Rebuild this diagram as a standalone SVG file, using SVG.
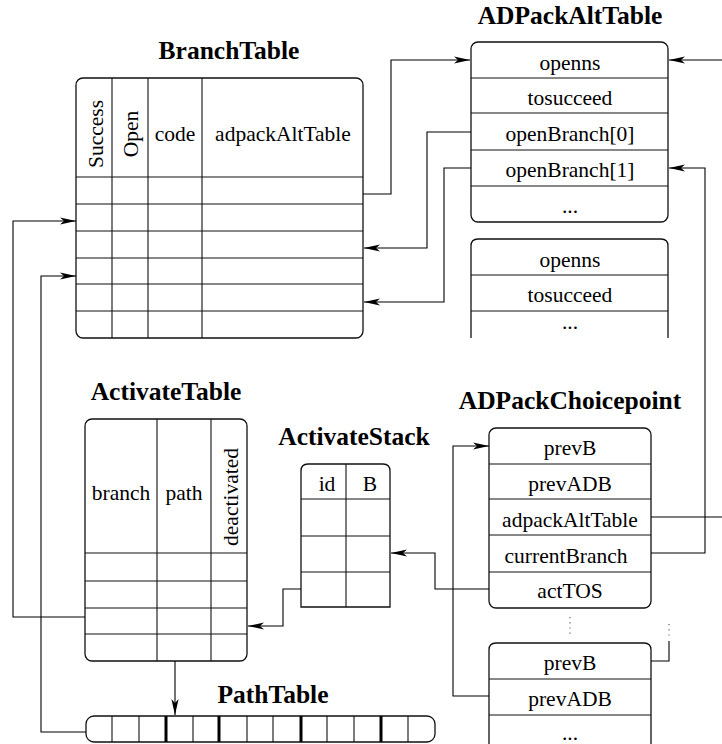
<svg xmlns="http://www.w3.org/2000/svg" width="722" height="744" viewBox="0 0 722 744">
  <style>
    .box { fill: #fff; stroke: #111; stroke-width: 1.3; }
    .grid { fill: none; stroke: #111; stroke-width: 1.1; }
    .thick { fill: none; stroke: #000; stroke-width: 3; }
    .txt { font-family: "Liberation Serif", "Times New Roman", serif; font-size: 21.5px; fill: #000; text-anchor: middle; }
    .title { font-family: "Liberation Serif", "Times New Roman", serif; font-size: 25.5px; font-weight: bold; fill: #000; text-anchor: middle; }
    .wire { fill: none; stroke: #000; stroke-width: 1.1; }
    .arrow { marker-end: url(#ah); }
    .dots { fill: none; stroke: #555; stroke-width: 1.1; stroke-dasharray: 1.2 4; }
  </style>
  <defs>
    <marker id="ah" markerUnits="userSpaceOnUse" viewBox="-18 -5 19 10" markerWidth="19" markerHeight="10" refX="0" refY="0" orient="auto">
      <path d="M0,0 L-16,-3.6 L-12,0 L-16,3.6 Z" fill="#000"/>
    </marker>
  </defs>

  <!-- BranchTable -->
  <g id="branchTable">
    <text class="title" x="229" y="59">BranchTable</text>
    <rect class="box" x="76" y="78" width="287" height="260" rx="7"/>
    <path class="grid" d="M76,177 H363 M76,204 H363 M76,231 H363 M76,258 H363 M76,284 H363 M76,311 H363 M112,78 V338 M148,78 V338 M202,78 V338"/>
    <text class="txt" transform="translate(103,134) rotate(-90)">Success</text>
    <text class="txt" transform="translate(138,134) rotate(-90)">Open</text>
    <text class="txt" x="175" y="141">code</text>
    <text class="txt" x="283" y="141">adpackAltTable</text>
  </g>

  <!-- ADPackAltTable -->
  <g id="adpackAltTable">
    <text class="title" x="570" y="24">ADPackAltTable</text>
    <rect class="box" x="471" y="42" width="197" height="180" rx="7"/>
    <path class="grid" d="M471,78 H668 M471,113 H668 M471,150 H668 M471,186 H668"/>
    <text class="txt" x="570" y="70">openns</text>
    <text class="txt" x="570" y="105">tosucceed</text>
    <text class="txt" x="570" y="141">openBranch[0]</text>
    <text class="txt" x="570" y="177">openBranch[1]</text>
    <text class="txt" x="570" y="213">...</text>
  </g>

  <g id="adpackAltTable2">
    <path class="box" d="M471,338 V246 Q471,239 478,239 H661 Q668,239 668,246 V338"/>
    <path class="grid" d="M471,275 H668 M471,311 H668"/>
    <text class="txt" x="570" y="267">openns</text>
    <text class="txt" x="570" y="302">tosucceed</text>
    <text class="txt" x="570" y="329">...</text>
  </g>

  <!-- ActivateTable -->
  <g id="activateTable">
    <text class="title" x="166" y="400">ActivateTable</text>
    <rect class="box" x="85" y="419" width="162" height="242" rx="7"/>
    <path class="grid" d="M85,553 H247 M85,581 H247 M85,608 H247 M85,634 H247 M157,419 V661 M211,419 V661"/>
    <text class="txt" x="121" y="500">branch</text>
    <text class="txt" x="184" y="500">path</text>
    <text class="txt" transform="translate(238,497) rotate(-90)">deactivated</text>
  </g>

  <!-- ActivateStack -->
  <g id="activateStack">
    <text class="title" x="354" y="445">ActivateStack</text>
    <path class="box" d="M301,607 V471 Q301,464 308,464 H383 Q390,464 390,471 V607 Z"/>
    <path class="grid" d="M301,499 H390 M301,536 H390 M301,572 H390 M346,464 V607"/>
    <text class="txt" x="327" y="491">id</text>
    <text class="txt" x="370" y="491">B</text>
  </g>

  <!-- PathTable -->
  <g id="pathTable">
    <text class="title" x="273" y="703">PathTable</text>
    <rect class="box" x="86" y="716" width="349" height="26" rx="8"/>
    <path class="grid" d="M112,716 V742 M139,716 V742 M193,716 V742 M247,716 V742 M273,716 V742 M327,716 V742 M354,716 V742 M408,716 V742"/>
    <path class="thick" d="M166,716 V742 M219,716 V742 M301,716 V742 M381,716 V742"/>
  </g>

  <!-- ADPackChoicepoint -->
  <g id="adpackChoicepoint">
    <text class="title" x="570" y="409">ADPackChoicepoint</text>
    <rect class="box" x="489" y="428" width="162" height="180" rx="7"/>
    <path class="grid" d="M489,464 H651 M489,499 H651 M489,535 H651 M489,572 H651"/>
    <text class="txt" x="570" y="455">prevB</text>
    <text class="txt" x="570" y="491">prevADB</text>
    <text class="txt" x="570" y="527">adpackAltTable</text>
    <text class="txt" x="566" y="563">currentBranch</text>
    <text class="txt" x="570" y="598">actTOS</text>
  </g>

  <g id="adpackChoicepoint2">
    <path class="box" d="M489,744 V650 Q489,643 496,643 H644 Q651,643 651,650 V744"/>
    <path class="grid" d="M489,679 H651 M489,715 H651"/>
    <text class="txt" x="570" y="670">prevB</text>
    <text class="txt" x="570" y="706">prevADB</text>
    <text class="txt" x="570" y="740">...</text>
  </g>

  <!-- connectors -->
  <g id="connectors">
    <path class="wire arrow" d="M363,194 H391 V60 H470"/>
    <path class="wire arrow" d="M471,132 H427 V248 H364"/>
    <path class="wire arrow" d="M471,168 H444 V302 H364"/>
    <path class="wire arrow" d="M722,60 H669"/>
    <path class="wire arrow" d="M651,553 H705 V168 H669"/>
    <path class="wire" d="M651,517 H722"/>
    <path class="wire arrow" d="M489,589 H435 V553 H391"/>
    <path class="wire arrow" d="M301,589 H283 V626 H248"/>
    <path class="wire arrow" d="M85,617 H13 V221 H76"/>
    <path class="wire arrow" d="M86,732 H41 V276 H76"/>
    <path class="wire arrow" d="M175,661 V715"/>
    <path class="wire arrow" d="M489,696 H453 V446 H489"/>
    <path class="wire" d="M651,661 H669 V641"/>
    <path class="dots" d="M669,624 V638"/>
    <path class="dots" d="M570,617 V635"/>
  </g>
</svg>
